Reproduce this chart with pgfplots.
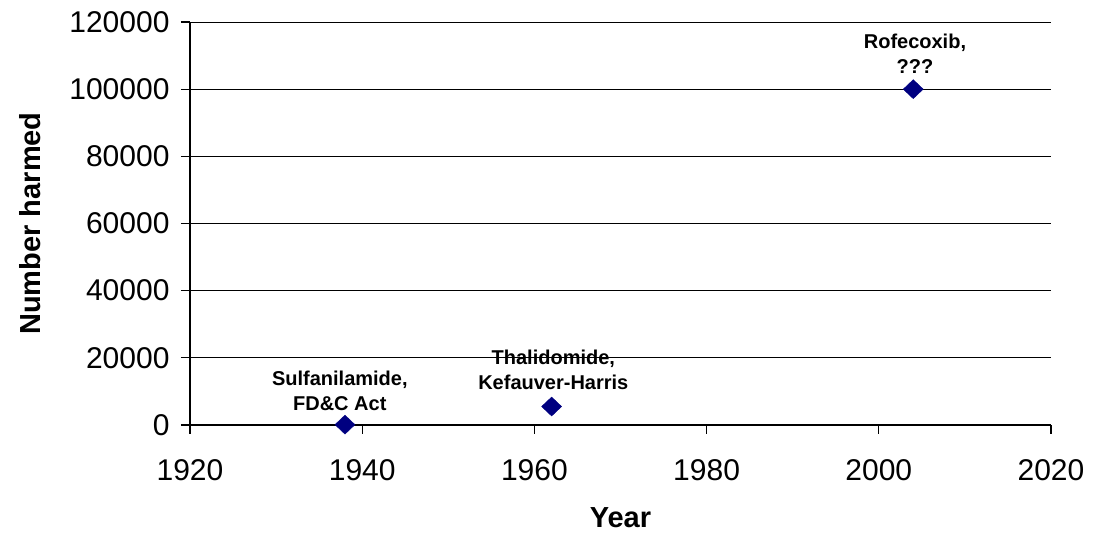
\documentclass[border=0pt]{standalone}
\usepackage{fontspec}
\setmainfont{Liberation Sans}
\usepackage{pgfplots}
\pgfplotsset{compat=1.18}
\definecolor{navy}{HTML}{000080}
\begin{document}
\begin{tikzpicture}
\useasboundingbox (-190pt,-118pt) rectangle (903pt,425pt);
\begin{axis}[
  scale only axis,
  width=861pt, height=403pt,
  xmin=1920, xmax=2020, ymin=0, ymax=120000,
  xtick={1920,1940,...,2020},
  ytick={0,20000,...,120000},
  axis lines=left,
  axis line style={-, line width=1.2pt},
  ymajorgrids,
  grid style={black, line width=0.8pt},
  tick style={black, line width=1.2pt},
  tick align=outside,
  major tick length=9pt,
  /pgf/number format/assume math mode=true,
  scaled y ticks=false,
  yticklabel style={/pgf/number format/fixed, /pgf/number format/1000 sep={}, font=\fontsize{30}{30}\selectfont, xshift=-8pt},
  xticklabel style={/pgf/number format/1000 sep={}, font=\fontsize{30}{30}\selectfont, yshift=-22pt},
  xlabel={Year},
  ylabel={Number harmed},
  label style={font=\fontsize{29}{29}\selectfont\bfseries},
  xlabel style={at={(axis description cs:0.5,-0.2308)}, anchor=center},
  ylabel style={at={(axis description cs:-0.1858,0.5)}, anchor=center},
  clip=false,
]
\addplot[only marks, mark=diamond*, mark size=9.5pt, mark options={fill=navy, draw=navy, xscale=1.4}] coordinates {
  (1938,107) (1962,5500) (2004,100000)
};
\node[align=center, font=\fontsize{20}{25}\selectfont\bfseries] at (axis cs:1937.4,10273) {Sulfanilamide,\\FD\&C Act};
\node[align=center, font=\fontsize{20}{25}\selectfont\bfseries] at (axis cs:1962.2,16527) {Thalidomide,\\Kefauver-Harris};
\node[align=center, font=\fontsize{20}{25}\selectfont\bfseries] at (axis cs:2004.2,110500) {Rofecoxib,\\???};
\end{axis}
\end{tikzpicture}
\end{document}
